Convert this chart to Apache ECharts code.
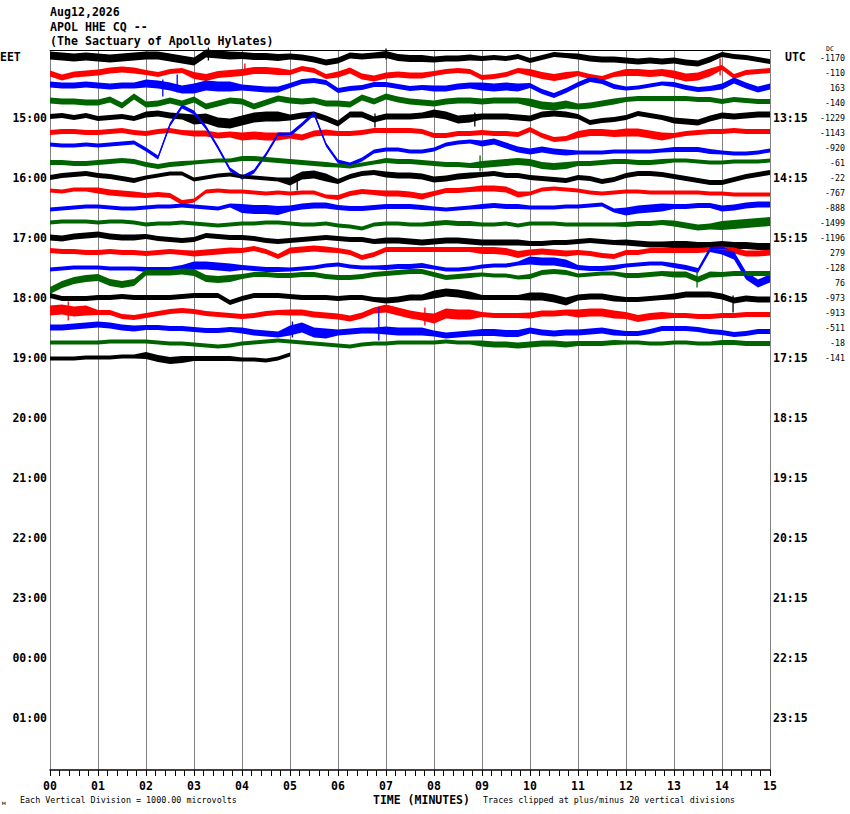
<!DOCTYPE html>
<html>
<head>
<meta charset="utf-8">
<title>APOL HHE CQ helicorder</title>
<script src="https://cdn.jsdelivr.net/npm/echarts@6/dist/echarts.min.js"></script>
<style>
html,body{margin:0;padding:0;background:#fff;}
#main{width:850px;height:814px;}
</style>
</head>
<body>
<div id="main"></div>
<script type="text/javascript">
// one trace every 15 minutes, samples every 0.25 min, deviation from the trace line
var sampleStep = 0.25;

var t1400 = [-2,-1,0,-1,0,1,0,-1,-2,-2, 0,2,4,-4,-3,-2,-2,-1,-1,0, -1,0,2,5,3,-2,-1,-2,-3,0, 1,1,2,1,1,0,1,0,1,-1, 3,0,-3,-2,-1,1,2,2,3,4, 3,4,3,5,6,2,-3,-1,0,2, 4];
var t1415 = [1,5,2,1,0,-2,-3,-2,0,2, -1,-2,3,5,2,1,0,-2,-2,-1, 0,-4,-2,4,2,-2,4,6,3,2, 3,3,1,-1,-2,-1,5,4,2,-2, 0,3,5,3,1,4,6,2,0,0, 1,0,2,5,4,0,-5,4,0,-1, -2];
var t1430 = [-3,-2,-2,-3,-2,-1,-2,-2,-4,-3, -1,2,1,-2,-1,-1,0,1,2,2, -2,-6,-7,-5,3,1,0,-3,-3,-1, 1,0,1,1,-1,-2,-1,0,-1,0, -2,4,8,3,-3,-8,-6,-1,1,0, -2,-4,-3,0,2,1,-1,-7,-2,2, -1];
var t1445 = [-2,-1,-1,0,0,-3,3,-6,2,1, -2,1,-3,4,1,-2,-1,4,0,-4, -2,-1,-2,1,1,2,-5,-1,-6,-3, -1,0,1,-1,-2,-2,-1,-2,-2,-2, 0,3,4,2,4,3,1,-1,-3,-4, -4,-4,-4,-4,-3,-3,-1,-3,-2,-1, -1];
var t1500 = [-1,-2,0,-2,1,0,-1,1,-3,-4, -2,-1,2,1,5,6,3,0,-1,-1, 0,-2,-3,1,6,-3,-3,2,-1,-1, -1,-2,-4,-2,2,1,-1,-1,-1,0, 1,-3,-4,-3,-1,5,3,2,0,-4, -2,0,3,4,5,1,-2,-1,-2,-3, -3];
var t1515 = [0,-1,-1,0,0,-1,-2,0,1,-1, -2,0,1,1,3,2,4,3,4,4, 3,5,1,0,1,1,0,-2,-2,-2, -2,-1,3,3,1,1,0,1,1,2, -3,3,7,6,2,0,0,1,0,0, 2,4,3,1,0,-1,-1,-2,-1,-1, -1];
var t1530 = [-3,-2,-2,-3,-2,-3,-4,-5,2,10, -23,-41,-35,-20,0,22,30,24,7,-13, -13,-23,-34,-3,14,17,12,4,2,2, 4,4,2,-3,-5,-6,-4,-6,-2,2, 4,2,4,5,5,5,5,4,4,4, 4,3,2,2,2,4,5,6,6,5, 3];
var t1545 = [0,0,1,1,0,-1,-2,-1,2,4, 2,1,0,-1,-2,-2,-4,-4,-3,-2, -1,0,1,2,3,4,2,0,-2,-1, -1,0,1,2,2,3,2,1,0,-1, 0,3,4,3,1,1,0,-1,-1,0, 0,-1,-2,-2,-1,0,0,-1,-1,-1, -2];
var t1600 = [0,-2,-3,-4,-2,-1,1,3,0,-2, -4,-4,2,0,-2,-3,-1,0,1,2, 4,-2,-3,0,4,-1,-4,-5,-3,-2, -2,-1,2,1,-1,-2,-3,-4,-2,-2, 0,1,2,3,0,1,4,2,-2,-4, -4,-3,-1,1,3,5,5,2,-1,-3, -5];
var t1615 = [-2,-1,-3,-3,-2,0,1,2,3,2, 3,10,8,-1,-2,-1,-1,0,1,0, 1,0,0,4,5,1,-1,0,1,1, 2,4,1,-2,-2,-3,-4,-4,-3,2, 1,-3,-4,-3,-2,0,1,0,-1,-1, 0,0,0,0,0,1,1,2,2,2, 2];
var t1630 = [2,1,0,-1,-1,0,1,1,0,-1, -1,-2,-1,0,1,-2,1,2,2,3, 1,-1,-2,-2,0,1,1,0,-1,-1, -1,0,1,2,1,0,-1,-2,-1,-1, 0,0,0,-1,-1,-2,-3,3,4,2, 1,0,-1,-1,-2,-2,1,0,-2,-3, -3];
var t1645 = [0,-1,-1,-1,0,-1,-1,0,2,1, 1,0,1,2,3,2,1,1,0,0, 1,2,2,1,3,4,6,2,1,1, 2,2,1,0,1,1,2,2,1,3, 1,1,1,2,2,2,2,2,2,1, 1,0,1,3,5,4,3,2,1,0, -1];
var t1700 = [0,1,-1,-2,-3,-1,0,0,-1,1, 2,3,2,-2,-1,0,0,1,3,4, 3,2,1,0,1,2,2,4,3,3, 4,5,4,3,3,4,5,5,5,5, 6,6,5,5,4,3,4,5,5,6, 7,7,7,7,8,8,7,8,8,9, 9];
var t1715 = [-2,-1,-1,0,0,-1,0,0,1,0, -1,0,1,0,-1,-2,-2,-4,-1,4, -2,-3,-4,-3,-2,0,5,2,-3,-3, -3,-3,-3,-3,-3,-3,-2,-2,-1,2, 0,-1,0,1,0,1,3,4,0,0, -2,-2,-2,-2,-2,-3,-3,-2,1,1, 0];
var t1730 = [2,1,0,0,0,1,1,1,2,2, 2,0,-2,-2,-1,0,0,1,2,2, 2,1,0,-2,-3,-1,0,0,0,-1, -1,-2,0,2,2,1,-1,-2,-2,-4, -7,-6,-6,-4,0,1,1,0,-2,-3, -4,-4,-2,0,3,-18,-17,-12,8,16, 11];
var t1745 = [8,2,-2,-4,-5,0,2,0,-10,-10, -10,-11,-10,-4,-3,-4,-6,-8,-8,-7, -7,-8,-8,-6,-5,-5,-6,-8,-9,-10, -11,-11,-8,-5,-6,-7,-8,-7,-7,-5, -6,-10,-11,-10,-7,-8,-9,-9,-7,-7, -8,-9,-8,-8,-3,-8,-8,-9,-9,-9, -9];
var t1800 = [-2,1,1,1,0,0,-1,0,0,0, 0,-1,-2,-2,-2,5,1,-2,-2,-2, -1,0,0,0,1,0,0,2,3,2, 0,0,-3,-5,-4,-2,0,0,0,0, -1,-1,1,4,0,-1,-1,1,2,2, 1,0,-1,-3,-3,-3,-1,3,1,2, 2];
var t1815 = [-2,-3,-1,-2,0,0,4,5,3,1, -1,-2,-1,1,2,3,4,3,1,0, 0,0,2,3,4,6,3,-2,-4,-1, 2,4,6,1,2,2,2,3,3,3, 3,1,1,0,1,0,0,2,3,6, 4,3,3,3,4,4,3,3,2,2, 2];
var t1830 = [0,0,-1,-2,-3,-2,0,1,0,0, 1,1,2,3,3,2,3,5,6,7, 3,0,5,6,5,4,3,3,3,4, 4,4,6,8,7,6,5,5,6,6, 3,5,6,5,5,4,3,5,6,6, 4,1,1,1,2,4,5,7,6,4, 4];
var t1845 = [0,0,0,0,0,-1,-1,-1,-1,0, 1,1,2,3,4,3,1,0,-1,-2, -1,0,1,2,3,4,2,1,1,0, 0,0,0,-1,0,0,1,2,2,3, 2,1,1,2,1,1,1,0,0,0, 1,1,0,0,1,1,0,0,1,1, 1];
var t1900 = [1,1,1,0,0,0,-1,-1,-2,1, 3,2,1,1,1,1,2,2,3,1, -3];

// half-width of the noise band of each trace, one value per minute
var n1400 = [4,4,4,4,3.5, 3,3,3.5,3,2.5, 2.5,3,3,3,2.5];
var n1415 = [3,3,2.5,3.5,3.5, 2.5,3,3,2.5,2.5, 3.5,2.5,3.5,4,2.5];
var n1430 = [3,3,4,5,3, 2.5,2.5,2.5,3,4, 2.5,2.5,2,2.5,3];
var n1445 = [3,3,3,3,3, 3,3,3,3,3, 4,3,2.5,2.5,2.5];
var n1500 = [2.5,2.5,3,5,5, 3,3,3,4,3, 3,2.5,2.5,3,3];
var n1515 = [2.5,2.5,2.5,3,4, 3,2.5,2.5,2.5,2.5, 2.5,3.5,4,2.5,2.5];
var n1530 = [2,2,2,2,2, 2,2,2,2,3, 3,2,2,2.5,2];
var n1545 = [2.5,2.5,2.5,2,2.5, 2.5,2,2.5,2.5,3.5, 3.5,2.5,2.5,2,2];
var n1600 = [2.5,2.5,2,2,2, 4,2.5,3,3,2.5, 2.5,2.5,2.5,2.5,2.5];
var n1615 = [2,3,2.5,2,2, 2,2.5,3,2.5,3, 2,2,2,2,2];
var n1630 = [2,2,2,2,4.5, 3,2.5,2.5,2,2.5, 2,2,4,2.5,3];
var n1645 = [2,2,2,2,2, 2,2,2,2.5,2, 2,2,2.5,3,4.5];
var n1700 = [3,3,2.5,2.5,2.5, 2.5,2.5,3,3,3, 2.5,2.5,3,3.5,3.5];
var n1715 = [2.5,2.5,2.5,3,2.5, 3,2.5,2.5,2.5,3.5, 3,2.5,2.5,2.5,3];
var n1730 = [2,2,2.5,4,2.5, 2,2,2.5,2,2, 4,2.5,2,2.5,4];
var n1745 = [3.5,3.5,3,3.5,2.5, 2.5,2.5,2.5,2.5,2, 2.5,2,2.5,3,2.5];
var n1800 = [2.5,2.5,2.5,2.5,2.5, 2.5,2.5,3,4,2.5, 4,3,2.5,3,3];
var n1815 = [5,2.5,2.5,2.5,2.5, 3,3,4,5,2.5, 3,4,3.5,2.5,2.5];
var n1830 = [3,3,2.5,2.5,3, 5,3,4,3,3.5, 3,3,2.5,2.5,2.5];
var n1845 = [2,2,2,2,2, 2,2,2,2,3, 3,2.5,2,2,2.5];
var n1900 = [2,2,3.5,2.5,2];

// single spikes: trace index, minute, top and bottom deviation
var spikes = [
	[0, 3.30, -10, 3], [0, 7.00, -9, 2], [1, 4.06, -9, 2], [1, 13.96, -14, 3],
	[2, 2.65, -13, 5], [2, 2.35, -8, 9], [4, 6.77, -4, 10], [4, 8.85, -5, 9],
	[7, 8.96, -7, 9], [8, 5.15, -3, 13], [15, 13.48, -12, 5], [16, 14.23, -2, 15],
	[17, 0.38, -11, 8], [17, 7.81, -5, 13], [18, 5.05, -6, 10], [18, 6.85, -20, 13]
];

var traces = [t1400,t1415,t1430,t1445,t1500,t1515,t1530,t1545,t1600,t1615,t1630,
              t1645,t1700,t1715,t1730,t1745,t1800,t1815,t1830,t1845,t1900];
var noise  = [n1400,n1415,n1430,n1445,n1500,n1515,n1530,n1545,n1600,n1615,n1630,
              n1645,n1700,n1715,n1730,n1745,n1800,n1815,n1830,n1845,n1900];

// DC offset printed at the end of each trace
var dcOffsets = [-1170,-110,163,-140,-1229,-1143,-920,-61,-22,-767,-888,-1499,
                 -1196,279,-128,76,-973,-913,-511,-18,-141];

var eetHours = ['15:00','16:00','17:00','18:00','19:00','20:00','21:00','22:00','23:00','00:00','01:00'];
var utcHours = ['13:15','14:15','15:15','16:15','17:15','18:15','19:15','20:15','21:15','22:15','23:15'];
var minuteLabels = ['00','01','02','03','04','05','06','07','08','09','10','11','12','13','14','15'];

// look
var traceColors = ['#000000','#ff0000','#0000ff','#006400'];
var ROW = 15, ROW0 = 7.5;   // vertical spacing of the traces, in y axis units
var mono = 'DejaVu Sans Mono';

var hourRows = [];
for (var h = 1; h <= eetHours.length; h++) hourRows.push(ROW0 + h * 4 * ROW);
var traceRows = [];
for (var k = 0; k < dcOffsets.length; k++) traceRows.push(ROW0 + k * ROW);

function hourIndex(v)
{
	return Math.round((v - ROW0) / (4 * ROW)) - 1;
}

var series = [];
traces.forEach(function(tr, k)
{
	var base = ROW0 + k * ROW;
	var color = traceColors[k % 4];
	var nz = noise[k];

	//noise band round the trace
	series.push({
		type: 'custom',
		silent: true,
		clip: false,
		data: [[0, base]],
		renderItem: function(params, api)
		{
			var up = [], down = [];
			for (var i = 0; i < tr.length; i++)
			{
				var t = i * sampleStep;
				var a = nz[Math.min(Math.floor(t), nz.length - 1)];
				up.push(api.coord([t, base + tr[i] - a]));
				down.unshift(api.coord([t, base + tr[i] + a]));
			}
			return {
				type: 'polygon',
				shape: {points: up.concat(down)},
				style: {fill: color, stroke: null}
			};
		}
	});

	//trace itself
	series.push({
		type: 'line',
		symbol: 'none',
		smooth: false,
		clip: false,
		silent: true,
		lineStyle: {color: color, width: 1.2, join: 'miter'},
		data: tr.map(function(d, i) { return [i * sampleStep, base + d]; })
	});
});

//spikes
series.push({
	type: 'custom',
	silent: true,
	clip: false,
	data: spikes,
	encode: {x: 1, y: 2},
	renderItem: function(params, api)
	{
		var row = api.value(0), t = api.value(1);
		var base = ROW0 + row * ROW;
		var p1 = api.coord([t, base + api.value(2)]);
		var p2 = api.coord([t, base + api.value(3)]);
		return {
			type: 'line',
			shape: {x1: p1[0], y1: p1[1], x2: p2[0], y2: p2[1]},
			style: {stroke: traceColors[row % 4], lineWidth: 1.3}
		};
	}
});

function txt(x, y, s, size, bold, align)
{
	return {
		type: 'text', x: x, y: y, silent: true,
		style: {
			text: s, fill: '#000', textAlign: align || 'left', textVerticalAlign: 'middle',
			font: (bold ? 'bold ' : '') + size + 'px "' + mono + '"'
		}
	};
}

var option = {
	animation: false,
	backgroundColor: '#fff',
	grid: {left: 50, right: 80, top: 50, bottom: 44, containLabel: false},
	xAxis: [
		{
			type: 'value', min: 0, max: 15, interval: 1, position: 'bottom',
			axisLine: {show: true, onZero: false, lineStyle: {color: '#000', width: 1.5}},
			axisTick: {show: true, length: 6, lineStyle: {color: '#000'}},
			minorTick: {show: true, splitNumber: 5, length: 6, lineStyle: {color: '#000'}},
			splitLine: {show: true, lineStyle: {color: '#808080', width: 1}},
			axisLabel: {
				margin: 10, color: '#000', fontFamily: mono, fontWeight: 'bold', fontSize: 11.5,
				formatter: function(v) { return minuteLabels[Math.round(v)]; }
			}
		},
		{
			type: 'value', min: 0, max: 15, position: 'top',
			axisLine: {show: true, lineStyle: {color: '#000', width: 1}},
			axisTick: {show: false}, axisLabel: {show: false}, splitLine: {show: false}
		}
	],
	yAxis: [
		{
			type: 'value', min: 0, max: 720, inverse: true, position: 'left',
			axisLine: {show: false}, axisTick: {show: false}, splitLine: {show: false},
			axisLabel: {
				customValues: hourRows, margin: 3, color: '#000',
				fontFamily: mono, fontWeight: 'bold', fontSize: 11.5,
				formatter: function(v) { return eetHours[hourIndex(v)]; }
			}
		},
		{
			type: 'value', min: 0, max: 720, inverse: true, position: 'right', offset: 0,
			axisLine: {show: false}, axisTick: {show: false}, splitLine: {show: false},
			axisLabel: {
				customValues: hourRows, margin: 3, color: '#000',
				fontFamily: mono, fontWeight: 'bold', fontSize: 11.5,
				formatter: function(v) { return utcHours[hourIndex(v)]; }
			}
		},
		{
			type: 'value', min: 0, max: 720, inverse: true, position: 'right', offset: 0,
			axisLine: {show: false}, axisTick: {show: false}, splitLine: {show: false},
			axisLabel: {
				customValues: traceRows, margin: 75, align: 'right', color: '#000',
				fontFamily: mono, fontSize: 8.3,
				formatter: function(v) { return String(dcOffsets[Math.round((v - ROW0) / ROW)]); }
			}
		}
	],
	graphic: [
		txt(50, 12, 'Aug12,2026', 11.6, true),
		txt(50, 27, 'APOL HHE CQ --', 11.6, true),
		txt(50, 41, '(The Sactuary of Apollo Hylates)', 11.6, true),
		txt(0, 57, 'EET', 11.5, true),
		txt(785, 57, 'UTC', 11.5, true),
		txt(826, 49, 'DC', 6.5, false),
		txt(373, 800, 'TIME (MINUTES)', 11.5, true),
		txt(20, 800, 'Each Vertical Division = 1000.00 microvolts', 8.4, false),
		txt(483, 800, 'Traces clipped at plus/minus 20 vertical divisions', 8.4, false),
		txt(2, 802, 'м', 6, false)
	],
	series: series
};

var chart = echarts.init(document.getElementById('main'), null, {renderer: 'svg'});
chart.setOption(option);
</script>
</body>
</html>
